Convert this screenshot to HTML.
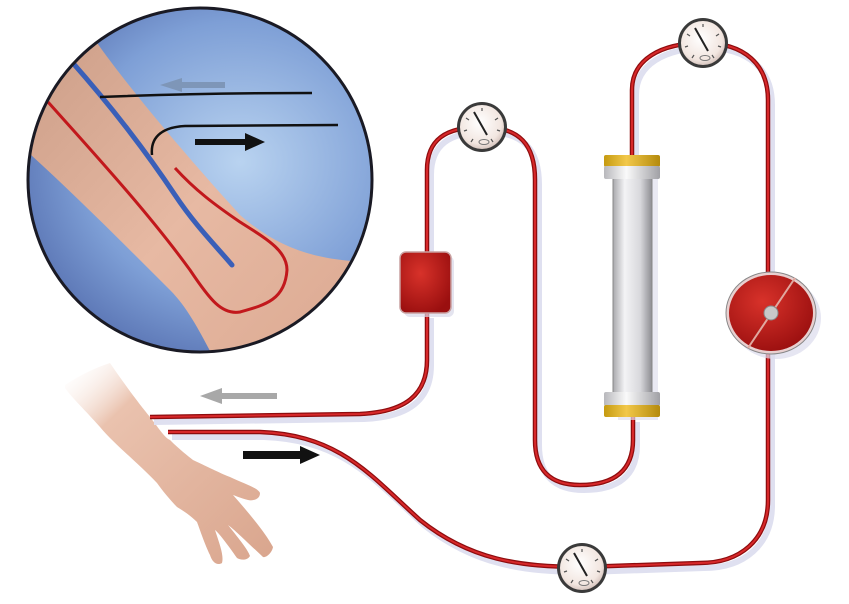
<!DOCTYPE html>
<html><head><meta charset="utf-8"><style>html,body{margin:0;padding:0;background:#fff}svg{display:block}</style></head>
<body>
<svg width="849" height="604" viewBox="0 0 849 604" xmlns="http://www.w3.org/2000/svg">
<defs>
<radialGradient id="bg" cx="0.6" cy="0.45" r="0.65">
<stop offset="0" stop-color="#b9d3f0"/><stop offset="0.6" stop-color="#7e9fd6"/><stop offset="1" stop-color="#4e66a8"/>
</radialGradient>
<linearGradient id="skin" x1="0" y1="0" x2="1" y2="1">
<stop offset="0" stop-color="#c89a84"/><stop offset="0.5" stop-color="#e7b9a3"/><stop offset="1" stop-color="#d9a68e"/>
</linearGradient>
<linearGradient id="arm" x1="0" y1="0" x2="1" y2="1">
<stop offset="0" stop-color="#fff" stop-opacity="0"/><stop offset="0.25" stop-color="#eac2ae"/><stop offset="1" stop-color="#d9a58d"/>
</linearGradient>
<linearGradient id="cyl" x1="0" x2="1">
<stop offset="0" stop-color="#a9a9ad"/><stop offset="0.3" stop-color="#f3f3f5"/><stop offset="0.7" stop-color="#d8d8dc"/><stop offset="1" stop-color="#8d8d92"/>
</linearGradient>
<linearGradient id="cap" x1="0" x2="1">
<stop offset="0" stop-color="#c59a10"/><stop offset="0.4" stop-color="#f2c84a"/><stop offset="1" stop-color="#b48a0c"/>
</linearGradient>
<linearGradient id="capw" x1="0" x2="1">
<stop offset="0" stop-color="#b8b8bc"/><stop offset="0.4" stop-color="#fafafa"/><stop offset="1" stop-color="#a0a0a5"/>
</linearGradient>
<radialGradient id="red" cx="0.4" cy="0.35" r="0.7">
<stop offset="0" stop-color="#d8322a"/><stop offset="1" stop-color="#9a0f0f"/>
</radialGradient>
<radialGradient id="face" cx="0.45" cy="0.4" r="0.6">
<stop offset="0" stop-color="#ffffff"/><stop offset="0.8" stop-color="#f2e6e0"/><stop offset="1" stop-color="#d9c8c2"/>
</radialGradient>
<clipPath id="cc"><circle cx="200" cy="180" r="171"/></clipPath>
<g id="gauge">
<circle r="25" fill="#3a3a3a"/>
<circle r="22" fill="url(#face)"/>
<g stroke="#555" stroke-width="1.2">
<line x1="0" y1="-19" x2="0" y2="-16"/><line x1="-16" y1="-9" x2="-13" y2="-7"/><line x1="16" y1="-9" x2="13" y2="-7"/>
<line x1="-18" y1="4" x2="-15" y2="3"/><line x1="18" y1="4" x2="15" y2="3"/><line x1="-11" y1="15" x2="-9" y2="12"/><line x1="11" y1="15" x2="9" y2="12"/>
</g>
<line x1="-8" y1="-15" x2="5" y2="8" stroke="#222" stroke-width="2"/>
<ellipse cx="2" cy="15" rx="5" ry="2.5" fill="none" stroke="#777" stroke-width="1"/>
</g>
</defs>

<!-- inset -->
<circle cx="200" cy="180" r="173" fill="#1a1a2a"/>
<g clip-path="url(#cc)">
<rect x="0" y="0" width="400" height="360" fill="url(#bg)"/>
<path d="M95,0 L95,40 C130,90 190,160 240,215 C280,250 320,262 380,262 L380,400 L240,400 C215,370 200,320 170,290 C120,240 70,190 20,145 L20,0 Z" fill="url(#skin)"/>
<path d="M72,62 C110,105 145,150 175,195 C195,225 215,245 232,265" fill="none" stroke="#3a5fb8" stroke-width="5" stroke-linecap="round"/>
<path d="M48,102 C100,160 150,215 190,270 C210,300 222,315 240,312 C265,305 285,300 287,270 C287,250 265,238 240,222 C215,205 195,190 175,168" fill="none" stroke="#c2181c" stroke-width="3"/>
<path d="M100,97 C150,95 230,93 312,93" fill="none" stroke="#111" stroke-width="2.5"/>
<path d="M152,155 C150,135 165,127 185,126 L338,125" fill="none" stroke="#111" stroke-width="2.5"/>
<polygon points="225,82 182,82 182,78 160,85 182,92 182,88 225,88" fill="#7e96b8"/>
<polygon points="195,139 245,139 245,133 265,142 245,151 245,145 195,145" fill="#111"/>
</g>
<circle cx="200" cy="180" r="172" fill="none" stroke="#1a1a24" stroke-width="3"/>

<!-- arm -->
<path d="M65,385 C80,375 95,368 110,363 C125,385 140,405 150,417 C160,430 165,438 170,440 C180,450 188,456 193,460 C210,468 222,474 230,477 C245,484 258,488 260,493 C260,500 252,501 248,500 C240,498 236,496 233,495 C248,512 265,532 273,547 C272,553 266,558 263,557 C250,545 235,530 228,525 C240,540 248,550 250,556 C247,561 240,560 237,558 C228,545 218,532 215,530 C220,545 224,556 222,563 C217,566 212,562 210,555 C205,545 200,530 197,522 C190,515 182,510 177,507 C170,500 162,490 157,483 C135,460 115,445 100,427 C85,410 72,398 65,388 Z" fill="url(#arm)"/>

<!-- arrows -->
<polygon points="277,393 222,393 222,388 200,396 222,404 222,399 277,399" fill="#a8a8a8"/>
<polygon points="243,451 300,451 300,446 320,455 300,464 300,459 243,459" fill="#111"/>

<!-- tube shadows -->
<g fill="none" stroke="#dfe0f0" stroke-width="6" transform="translate(4,5)">
<path d="M150,417 L360,414 C405,412 427,395 427,360 L427,313 M427,252 L427,170 C427,140 445,127 482,127 C520,127 535,145 535,180 L535,440 C535,470 550,485 580,485 C615,485 633,470 633,440 L633,417 M632,156 L632,90 C632,60 660,43 703,43 C745,43 768,65 768,100 L768,354 L768,500 C768,540 740,563 700,563 L582,567 C520,567 470,560 420,520 C370,475 340,435 260,432 L168,432"/>
</g>
<!-- tubes -->
<g fill="none" stroke="#8e0c0e" stroke-width="4.5">
<path d="M150,417 L360,414 C405,412 427,395 427,360 L427,313 M427,252 L427,170 C427,140 445,127 482,127 C520,127 535,145 535,180 L535,440 C535,470 550,485 580,485 C615,485 633,470 633,440 L633,417 M632,156 L632,90 C632,60 660,43 703,43 C745,43 768,65 768,100 L768,354 L768,500 C768,540 740,563 700,563 L582,567 C520,567 470,560 420,520 C370,475 340,435 260,432 L168,432"/>
</g>
<g fill="none" stroke="#d7282a" stroke-width="2">
<path d="M150,417 L360,414 C405,412 427,395 427,360 L427,313 M427,252 L427,170 C427,140 445,127 482,127 C520,127 535,145 535,180 L535,440 C535,470 550,485 580,485 C615,485 633,470 633,440 L633,417 M632,156 L632,90 C632,60 660,43 703,43 C745,43 768,65 768,100 L768,354 L768,500 C768,540 740,563 700,563 L582,567 C520,567 470,560 420,520 C370,475 340,435 260,432 L168,432"/>
</g>

<!-- box -->
<rect x="404" y="256" width="50" height="61" rx="6" fill="#d8d8e8" opacity="0.7"/>
<rect x="400" y="252" width="51" height="61" rx="6" fill="url(#red)" stroke="#c9a0a0" stroke-width="1.5"/>

<!-- dialyzer -->
<rect x="618" y="160" width="40" height="260" fill="#e0e0ee" opacity="0.7"/>
<rect x="613" y="176" width="39" height="220" fill="url(#cyl)" stroke="#888" stroke-width="1"/>
<rect x="604" y="155" width="56" height="12" rx="2" fill="url(#cap)"/>
<rect x="604" y="166" width="56" height="13" rx="2" fill="url(#capw)"/>
<rect x="604" y="392" width="56" height="14" rx="2" fill="url(#capw)"/>
<rect x="604" y="405" width="56" height="12" rx="2" fill="url(#cap)"/>

<!-- pump -->
<ellipse cx="776" cy="318" rx="45" ry="41" fill="#dcdcec" opacity="0.7"/>
<ellipse cx="771" cy="313" rx="45" ry="41" fill="#e8d0d0" stroke="#888" stroke-width="1"/>
<ellipse cx="771" cy="313" rx="42" ry="38" fill="url(#red)"/>
<line x1="748" y1="348" x2="795" y2="278" stroke="#e0a8a0" stroke-width="2"/>
<circle cx="771" cy="313" r="7" fill="#c8c8c8" stroke="#888"/>

<!-- gauges -->
<use href="#gauge" x="482" y="127"/>
<use href="#gauge" x="703" y="43"/>
<use href="#gauge" x="582" y="568"/>
</svg>
</body></html>
